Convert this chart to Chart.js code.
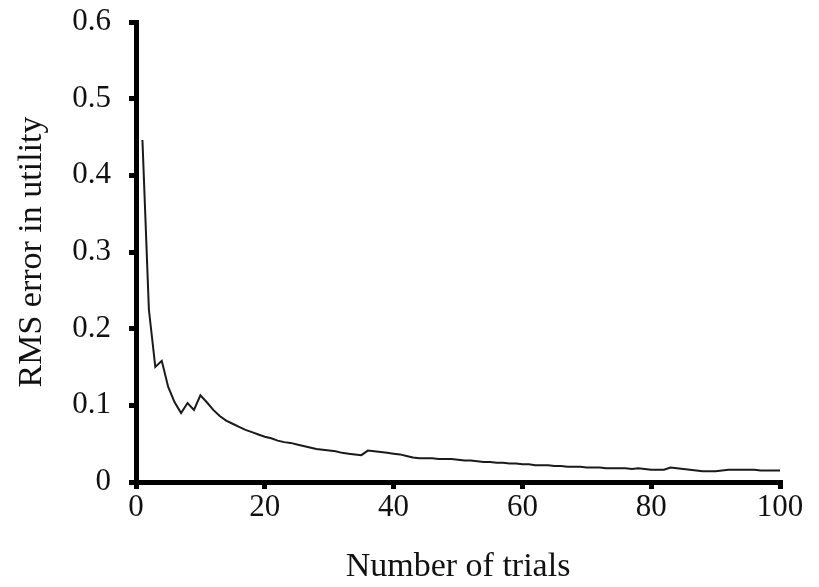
<!DOCTYPE html>
<html>
<head>
<meta charset="utf-8">
<script src="https://cdn.jsdelivr.net/npm/chart.js@4/dist/chart.umd.min.js"></script>
<style>
  html, body { margin: 0; padding: 0; background: #fff; }
  #wrap { width: 819px; height: 587px; }
</style>
</head>
<body>
<div id="wrap"><canvas id="myChart" width="819" height="587"></canvas></div>
<script>
// number of trials (x) and RMS error
const trials = [];
for (let i = 1; i <= 100; i++) trials.push(i);

const rmsError = [
  0.446, 0.225, 0.150, 0.158, 0.124, 0.104, 0.090, 0.103, 0.094, 0.113,
  0.104, 0.094, 0.086, 0.080, 0.076, 0.072, 0.068, 0.065, 0.062, 0.059,
  0.057, 0.054, 0.052, 0.051, 0.049, 0.047, 0.045, 0.043, 0.042, 0.041,
  0.040, 0.038, 0.037, 0.036, 0.035, 0.041, 0.040, 0.039, 0.038, 0.037,
  0.036, 0.034, 0.032, 0.031, 0.031, 0.031, 0.030, 0.030, 0.030, 0.029,
  0.028, 0.028, 0.027, 0.026, 0.026, 0.025, 0.025, 0.024, 0.024, 0.023,
  0.023, 0.022, 0.022, 0.022, 0.021, 0.021, 0.020, 0.020, 0.020, 0.019,
  0.019, 0.019, 0.018, 0.018, 0.018, 0.018, 0.017, 0.018, 0.017, 0.016,
  0.016, 0.016, 0.019, 0.018, 0.017, 0.016, 0.015, 0.014, 0.014, 0.014,
  0.015, 0.016, 0.016, 0.016, 0.016, 0.016, 0.015, 0.015, 0.015, 0.015
];

const xTicks = [0, 20, 40, 60, 80, 100];
const yTicks = [0, 0.1, 0.2, 0.3, 0.4, 0.5, 0.6];

const serif = "'Liberation Serif', 'DejaVu Serif', serif";

const points = trials.map((t, i) => ({ x: t, y: rmsError[i] }));

const ctx = document.getElementById('myChart');
new Chart(ctx, {
  type: 'line',
  data: {
    datasets: [{
      data: points,
      borderColor: '#1a1a1a',
      borderWidth: 2,
      pointRadius: 0,
      tension: 0,
      fill: false
    }]
  },
  options: {
    responsive: false,
    animation: false,
    layout: { padding: { top: 22, right: 39, left: 0, bottom: 0 } },
    plugins: { legend: { display: false }, tooltip: { enabled: false } },
    scales: {
      x: {
        type: 'linear',
        min: 0,
        max: 100,
        afterBuildTicks: (scale) => { scale.ticks = xTicks.map(v => ({ value: v })); },
        afterFit: (scale) => {
          scale.height = 587 - 482;
          scale.paddingLeft = 0;
          scale.paddingRight = 0;
        },
        border: { display: true, color: '#000', width: 5 },
        grid: { drawOnChartArea: false, color: '#000', lineWidth: 5, tickLength: 7 },
        ticks: { color: '#111', font: { family: serif, size: 31 }, padding: 0, maxRotation: 0 },
        title: { display: true, text: 'Number of trials', color: '#111', font: { family: serif, size: 34 }, padding: { top: 12, bottom: 0 } }
      },
      y: {
        min: 0,
        max: 0.6,
        afterBuildTicks: (scale) => { scale.ticks = yTicks.map(v => ({ value: v })); },
        afterFit: (scale) => {
          scale.width = 136;
          scale.paddingTop = 0;
          scale.paddingBottom = 0;
        },
        border: { display: true, color: '#000', width: 5 },
        grid: { drawOnChartArea: false, color: '#000', lineWidth: 5, tickLength: 7 },
        ticks: {
          color: '#111',
          font: { family: serif, size: 31 },
          padding: 18,
          callback: (v) => v === 0 ? '0' : v.toFixed(1)
        },
        title: { display: true, text: 'RMS error in utility', color: '#111', font: { family: serif, size: 34 }, padding: { top: 12, bottom: 6 } }
      }
    }
  }
});
</script>
</body>
</html>
